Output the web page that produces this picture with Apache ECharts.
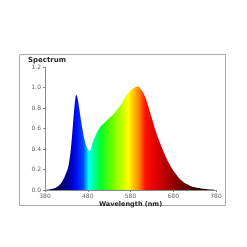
<!DOCTYPE html>
<html><head><meta charset="utf-8">
<script src="https://cdn.jsdelivr.net/npm/echarts@6/dist/echarts.min.js"></script>
<style>html,body{margin:0;padding:0;background:#fff}#c{width:247px;height:247px}</style>
</head><body><div id="c"></div>
<script>
var wavelengths = [380,390,400,410,420,430,435,440,445,450,453,456,460,465,470,475,480,484,488,492,500,510,520,530,540,550,560,570,580,590,597,605,612,620,630,640,650,660,670,680,690,700,710,720,730,740,750,760,770,780];
var intensity   = [0.0,0.005,0.015,0.035,0.08,0.17,0.24,0.38,0.62,0.86,0.93,0.90,0.80,0.66,0.54,0.45,0.40,0.38,0.41,0.47,0.55,0.62,0.66,0.70,0.74,0.79,0.85,0.92,0.97,1.0,1.01,0.98,0.93,0.84,0.70,0.56,0.45,0.35,0.26,0.19,0.135,0.09,0.06,0.04,0.028,0.02,0.013,0.008,0.004,0.002];
var yTicks = ['0.0','0.2','0.4','0.6','0.8','1.0','1.2'];
var xTicks = ['380','480','580','680','780'];
var colorNm = [380,420,440,455,470,482,495,510,530,555,575,588,600,615,640,670,700,740,780];
var colorHex = ['#000020','#000070','#0000b0','#0010ff','#0050ff','#00ffff','#00ff90','#00ff30','#50ff00','#b0ff00','#ffff00','#ffc000','#ff8000','#ff1000','#e00000','#a80000','#700000','#300000','#000000'];

var chart = echarts.init(document.getElementById('c'), null, {renderer:'canvas'});
var stops = colorNm.map(function(n,i){return {offset:(n-380)/400, color:colorHex[i]};});
var lab = {fontFamily:'DejaVu Sans', fontSize:6, color:'#666'};
chart.setOption({
  animation:false,
  backgroundColor:'#fff',
  grid:{left:45, right:31, top:67, bottom:57},
  graphic:[
    {type:'rect', shape:{x:19.5,y:54.5,width:206,height:151}, style:{fill:'none', stroke:'#aaaaaa', lineWidth:1}, z:-1},
    {type:'text', left:28, top:57, style:{text:'Spectrum', font:'bold 7px "DejaVu Sans"', fill:'#222'}}
  ],
  xAxis:{type:'value', min:380, max:780, interval:100,
    name:'Wavelength (nm)', nameLocation:'middle', nameGap:11,
    nameTextStyle:{fontFamily:'DejaVu Sans', fontSize:6.5, fontWeight:'bold', color:'#222'},
    axisLine:{lineStyle:{color:'#888', width:1}},
    axisTick:{show:true, length:2, lineStyle:{color:'#888'}},
    axisLabel:Object.assign({margin:3, formatter:function(v){var s=String(v);return xTicks.indexOf(s)>=0?s:'';}}, lab),
    splitLine:{show:false}},
  yAxis:{type:'value', min:0, max:1.2, interval:0.2,
    axisLine:{show:true, lineStyle:{color:'#888', width:1}},
    axisTick:{show:true, length:2, lineStyle:{color:'#888'}},
    axisLabel:Object.assign({margin:4, formatter:function(v){return yTicks[Math.round(v/0.2)]||'';}}, lab),
    splitLine:{show:false}},
  series:[{type:'line', smooth:0.3, showSymbol:false,
    data:wavelengths.map(function(w,i){return [w,intensity[i]];}),
    lineStyle:{width:0},
    areaStyle:{opacity:1, color:new echarts.graphic.LinearGradient(0,0,1,0,stops)}}]
});
</script></body></html>
